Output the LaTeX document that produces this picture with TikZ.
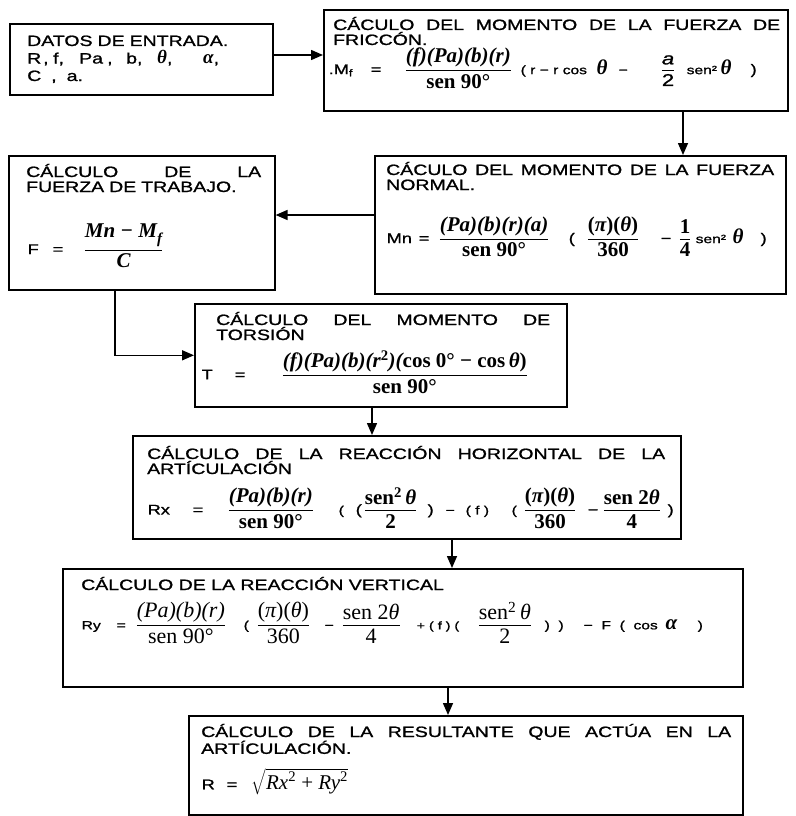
\documentclass[tikz,border=0pt]{standalone}
\usepackage{fontspec}
\usepackage{amsmath}
\setmainfont{Liberation Sans}[FakeStretch=1.3,FakeBold=1.2]
\newfontfamily\tms{Liberation Serif}
\usetikzlibrary{arrows.meta}

% formula fonts
\newcommand\mfont{\fontsize{21}{21}\selectfont\tms\bfseries}
\newcommand\mreg{\fontsize{22}{22}\selectfont\tms}
\newcommand\ib[1]{\text{\mfont\itshape #1}}
\newcommand\ub[1]{\text{\mfont #1}}
\newcommand\ir[1]{\text{\mreg\itshape #1}}
\newcommand\ur[1]{\text{\mreg #1}}
\newcommand\fr[2]{\ensuremath{\genfrac{}{}{1pt}{0}{#1}{#2}}}
\newcommand\thet{{\mfont\itshape θ}}
\newcommand\alp{{\mfont\itshape α}}
\newcommand\sthet{{\fontsize{19}{19}\selectfont\tms\bfseries\itshape θ}}
\newcommand\salp{{\fontsize{19}{19}\selectfont\tms\bfseries\itshape α}}
\newcommand\fsm{\fontsize{11}{12}\selectfont}
\newcommand\fmd{\fontsize{12}{12}\selectfont}
% piece of a line placed at a fixed offset from the line start
\newcommand\at[2]{\makebox[0pt][l]{\hspace{#1}#2}}
% word gap that spreads a heading line over the full width
\newcommand\hs{\hspace{\fill}}

\tikzset{
  box/.style={draw, line width=1.6pt, inner sep=0pt, anchor=north west},
  hdr/.style={anchor=base west, inner sep=0pt, align=left,
              font=\fontsize{15}{15}\selectfont},
  eq/.style={anchor=west, inner sep=0pt, font=\fontsize{14}{14}\selectfont},
  flow/.style={line width=1.5pt, -{Triangle[length=12pt,width=10pt]}},
}

\begin{document}
\begin{tikzpicture}[x=1pt,y=-1pt]
\fill[white] (0,0) rectangle (795,816);
\useasboundingbox (0,0) rectangle (795,816);

% boxes
\node[box, minimum width=263pt, minimum height=71pt]  (datos)   at (9,23)   {};
\node[box, minimum width=464pt, minimum height=101pt] (fric)    at (323,9)  {};
\node[box, minimum width=411pt, minimum height=138pt] (normal)  at (374,155){};
\node[box, minimum width=266pt, minimum height=134pt] (fuerza)  at (8,155)  {};
\node[box, minimum width=372pt, minimum height=103pt] (torsion) at (194,303){};
\node[box, minimum width=548pt, minimum height=103pt] (horiz)   at (132,435){};
\node[box, minimum width=680pt, minimum height=118pt] (vert)    at (62,568) {};
\node[box, minimum width=554pt, minimum height=99pt]  (result)  at (188,715){};

% input data
\node[hdr, text width=236pt, font=\fontsize{15}{17.5}\selectfont] (tdatos) at (27,46)
  {DATOS DE ENTRADA.\\
   \at{0pt}{R}\at{16pt}{,}\at{26pt}{f,}\at{52pt}{Pa}\at{80pt}{,}\at{99pt}{b,}%
   \at{130pt}{\sthet,}\at{176pt}{\salp,}\\
   C\ \ ,\ \ a.};

% friction moment
\node[hdr, text width=447pt] (tfric) at (333,30)
  {CÁCULO\hs DEL\hs MOMENTO\hs DE\hs LA\hs FUERZA\hs DE\\FRICCÓN.};
\node[eq] (efric) at (328,68)
  {\at{0pt}{.M\textsubscript{f}}%
   \at{42pt}{=}%
   \at{76pt}{\fr{\ib{(f)(Pa)(b)(r)}}{\ub{sen 90°}}}%
   \at{192pt}{\fmd ( r − r cos}%
   \at{268pt}{\thet}%
   \at{290pt}{\fmd −}%
   \at{332pt}{\fr{\text{\fontsize{17}{17}\selectfont\itshape a}}{\text{\fontsize{17}{17}\selectfont 2}}}%
   \at{358pt}{\fmd sen²}%
   \at{392pt}{\thet}%
   \at{422pt}{)}};

% normal moment
\node[hdr, text width=388pt] (tnormal) at (386,175)
  {CÁCULO\hs DEL\hs MOMENTO\hs DE\hs LA\hs FUERZA\\NORMAL.};
\node[eq] (enormal) at (386,237)
  {\at{0pt}{Mn}%
   \at{32pt}{=}%
   \at{52pt}{\fr{\ib{(Pa)(b)(r)(a)}}{\ub{sen 90°}}}%
   \at{182pt}{(}%
   \at{200pt}{\fr{\text{\mfont(\itshape π\upshape)(\itshape θ\upshape)}}{\ub{360}}}%
   \at{274pt}{−}%
   \at{292pt}{\fr{\ub{1}}{\ub{4}}}%
   \at{309pt}{\fmd sen²}%
   \at{346pt}{\thet}%
   \at{374pt}{)}};

% working force
\node[hdr, text width=235pt] (tfuerza) at (26,177)
  {CÁLCULO\hs DE\hs LA\\FUERZA DE TRABAJO.};
\node[eq] (efuerza) at (27,246)
  {\at{0pt}{F}%
   \at{25pt}{=}%
   \at{56pt}{\fr{\text{\mfont\itshape Mn − M\raisebox{-6pt}{\fontsize{15}{15}\selectfont f}}}{\ib{C}}}};

% torsion moment
\node[hdr, text width=334pt] (ttorsion) at (216,325)
  {CÁLCULO\hs DEL\hs MOMENTO\hs DE\\TORSIÓN};
\node[eq] (etorsion) at (201,372)
  {\at{0pt}{T}%
   \at{33pt}{=}%
   \at{80pt}{\fr{\text{\mfont\itshape (f)(Pa)(b)(r\textsuperscript{\upshape 2})(\upshape cos 0° − cos\,\itshape θ\upshape)}}{\ub{sen 90°}}}};

% horizontal reaction
\node[hdr, text width=518pt] (thoriz) at (147,459)
  {CÁLCULO\hs DE\hs LA\hs REACCIÓN\hs HORIZONTAL\hs DE\hs LA\\ARTÍCULACIÓN};
\node[eq] (ehoriz) at (147,508)
  {\at{0pt}{Rx}%
   \at{45pt}{=}%
   \at{80pt}{\fr{\ib{(Pa)(b)(r)}}{\ub{sen 90°}}}%
   \at{191pt}{\fmd (}%
   \at{208pt}{(}%
   \at{216pt}{\fr{\text{\mfont sen\textsuperscript{2}\,\itshape θ}}{\ub{2}}}%
   \at{280pt}{)}%
   \at{298pt}{\fmd −}%
   \at{318pt}{\fmd ( f )}%
   \at{364pt}{\fmd (}%
   \at{376pt}{\fr{\text{\mfont(\itshape π\upshape)(\itshape θ\upshape)}}{\ub{360}}}%
   \at{440pt}{−}%
   \at{455pt}{\fr{\text{\mfont sen 2\itshape θ}}{\ub{4}}}%
   \at{520pt}{)}};

% vertical reaction
\node[hdr] (tvert) at (81,590) {CÁLCULO DE LA REACCIÓN VERTICAL};
\node[eq] (evert) at (81,623)
  {\at{0pt}{\fmd Ry}%
   \at{35pt}{\fmd =}%
   \at{54pt}{\fr{\ir{(Pa)(b)(r)}}{\ur{sen 90°}}}%
   \at{162pt}{\fmd (}%
   \at{175pt}{\fr{\text{\mreg(\itshape π\upshape)(\itshape θ\upshape)}}{\ur{360}}}%
   \at{243pt}{\fmd −}%
   \at{260pt}{\fr{\text{\mreg sen 2\itshape θ}}{\ur{4}}}%
   \at{335pt}{\fsm + ( f ) (}%
   \at{396pt}{\fr{\text{\mreg sen\textsuperscript{2}\,\itshape θ}}{\ur{2}}}%
   \at{463pt}{\fmd )\ \ )}%
   \at{502pt}{\fmd −\ \ F\ \ (\ \ cos}%
   \at{584pt}{\alp}%
   \at{616pt}{\fmd )}};

% resultant
\node[hdr, text width=530pt] (tresult) at (201,737)
  {CÁLCULO\hs DE\hs LA\hs RESULTANTE\hs QUE\hs ACTÚA\hs EN\hs LA\\ARTÍCULACIÓN.};
\node[eq] (eresult) at (201,782)
  {\at{0pt}{R}%
   \at{25pt}{=}%
   \at{50pt}{$\sqrt{\text{\fontsize{21}{21}\selectfont\tms\itshape Rx\textsuperscript{\upshape 2} {\upshape +} Ry\textsuperscript{\upshape 2}}}$}};

% connectors
\coordinate (y12) at (0,55);
\coordinate (x23) at (683,0);
\coordinate (y34) at (0,215);
\coordinate (x45) at (115,0);
\coordinate (x56) at (372,0);
\coordinate (x67) at (452,0);
\coordinate (x78) at (448,0);
\draw[flow] (datos.east |- y12) -- (fric.west |- y12);
\draw[flow] (x23 |- fric.south) -- (x23 |- normal.north);
\draw[flow] (normal.west |- y34) -- (fuerza.east |- y34);
\draw[flow] (x45 |- fuerza.south) |- (torsion.west);
\draw[flow] (x56 |- torsion.south) -- (x56 |- horiz.north);
\draw[flow] (x67 |- horiz.south) -- (x67 |- vert.north);
\draw[flow] (x78 |- vert.south) -- (x78 |- result.north);
\end{tikzpicture}
\end{document}
